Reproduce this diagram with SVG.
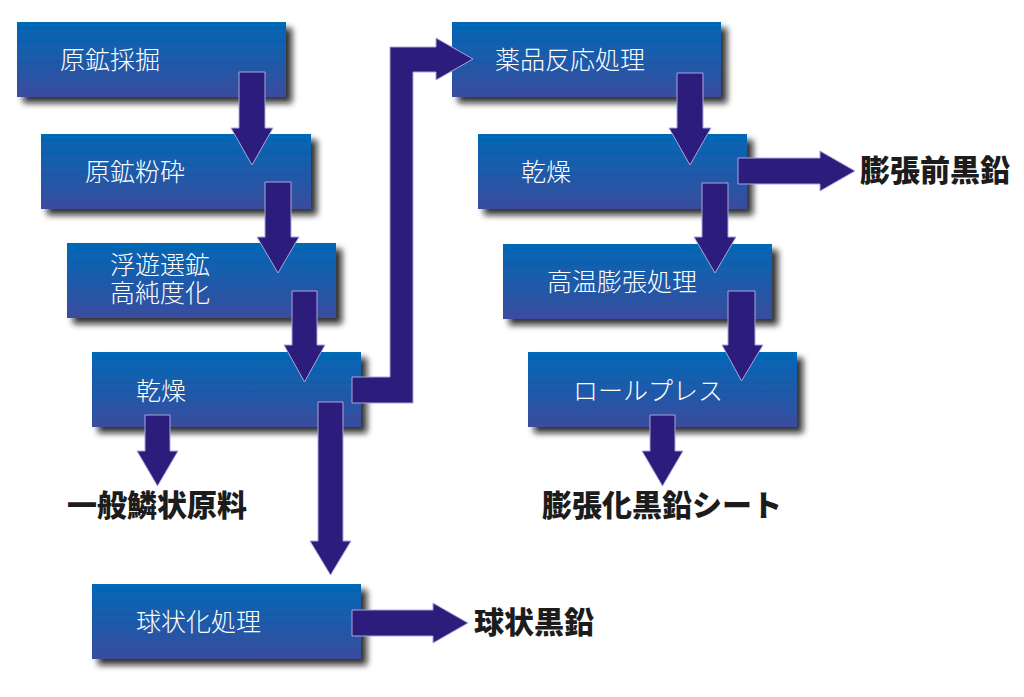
<svg xmlns="http://www.w3.org/2000/svg" width="1024" height="697" viewBox="0 0 1024 697">
<defs>
<linearGradient id="bg" x1="0" y1="0" x2="0" y2="1">
<stop offset="0" stop-color="#0068b5"/>
<stop offset="1" stop-color="#3a4c9e"/>
</linearGradient>
<filter id="sh" x="-10%" y="-20%" width="130%" height="150%">
<feDropShadow dx="6" dy="6" stdDeviation="3" flood-color="#111111" flood-opacity="0.85"/>
</filter>
<style>
.box{fill:url(#bg);filter:url(#sh);}
.lbl{font-family:"Noto Sans CJK JP","Noto Sans",sans-serif;font-size:25px;font-weight:300;fill:#ffffff;dominant-baseline:central;}
.out{font-family:"Noto Sans CJK JP","Noto Sans",sans-serif;font-size:30px;font-weight:900;fill:#1c1c1c;dominant-baseline:central;}
.arr{fill:#2c1d7c;stroke:#a9a6dc;stroke-width:1;}
</style>
</defs>
<rect width="1024" height="697" fill="#ffffff"/>

<g id="n1"><rect class="box" x="17" y="22" width="269" height="75"/><text class="lbl" x="60" y="58">原鉱採掘</text></g>
<g id="n2"><rect class="box" x="41" y="134" width="270" height="75"/><text class="lbl" x="85" y="170">原鉱粉砕</text></g>
<g id="n3"><rect class="box" x="67" y="243" width="269" height="75"/><text class="lbl"><tspan x="110" y="263">浮遊選鉱</tspan><tspan x="110" y="291">高純度化</tspan></text></g>
<g id="n4"><rect class="box" x="92" y="352" width="269" height="75"/><text class="lbl" x="136" y="389">乾燥</text></g>
<g id="n5"><rect class="box" x="92" y="584" width="269" height="75"/><text class="lbl" x="136" y="620">球状化処理</text></g>
<g id="n6"><rect class="box" x="452" y="22" width="269" height="75"/><text class="lbl" x="495" y="58">薬品反応処理</text></g>
<g id="n7"><rect class="box" x="478" y="134" width="269" height="75"/><text class="lbl" x="521" y="170">乾燥</text></g>
<g id="n8"><rect class="box" x="503" y="244" width="269" height="75"/><text class="lbl" x="547" y="280">高温膨張処理</text></g>
<g id="n9"><rect class="box" x="528" y="352" width="269" height="75"/><text class="lbl" x="573" y="389">ロールプレス</text></g>

<g id="o1"><text class="out" x="67" y="503">一般鱗状原料</text></g>
<g id="o2"><text class="out" x="474" y="620">球状黒鉛</text></g>
<g id="o3"><text class="out" x="860" y="168">膨張前黒鉛</text></g>
<g id="o4"><text class="out" x="542" y="503">膨張化黒鉛シート</text></g>

<g id="connectors">
<polygon class="arr" points="239,72 265,72 265,128 273,128 252,165 231,128 239,128"/>
<polygon class="arr" points="265,182 291,182 291,237 299,237 278,273 257,237 265,237"/>
<polygon class="arr" points="292,291 317,291 317,345 325,345 304.5,382 284,345 292,345"/>
<polygon class="arr" points="145,415 170,415 170,451 178,451 157.5,486 137,451 145,451"/>
<polygon class="arr" points="318,402 343,402 343,541 351,541 330.5,575 310,541 318,541"/>
<polygon class="arr" points="352,377 390,377 390,47 436,47 436,38 473,59 436,80 436,72 413,72 413,403 352,403"/>
<polygon class="arr" points="352,610 433,610 433,603 468,623 433,643 433,636 352,636"/>
<polygon class="arr" points="677,73 703,73 703,128 711,128 690,165 669,128 677,128"/>
<polygon class="arr" points="738,158 820,158 820,151 855,171 820,191 820,184 738,184"/>
<polygon class="arr" points="702,183 728,183 728,237 736,237 715,273 694,237 702,237"/>
<polygon class="arr" points="728,291 755,291 755,345 763,345 741.5,381 722,345 728,345"/>
<polygon class="arr" points="650,415 675,415 675,451 683,451 662.5,486 642,451 650,451"/>
</g>
</svg>
